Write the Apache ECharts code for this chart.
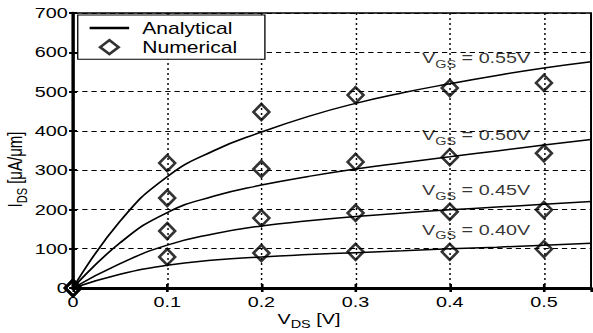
<!DOCTYPE html>
<html>
<head>
<meta charset="utf-8">
<script src="https://cdn.jsdelivr.net/npm/echarts@6/dist/echarts.min.js"></script>
<style>
  html, body { margin: 0; padding: 0; background: #fff; overflow: hidden; }
  /* the source figure is stretched horizontally, so draw narrower and stretch */
  #chart { width: 450px; height: 333px; transform: scaleX(1.3178); transform-origin: 0 0; }
</style>
</head>
<body>
<div id="chart"></div>
<script>
// analytical curves, sampled along V_DS
const vdsLine = [0, 0.05, 0.1, 0.15, 0.2, 0.25, 0.3, 0.35, 0.4, 0.45, 0.5, 0.55]
const ana055 = [0, 170, 283, 350, 397, 437, 470, 497, 520, 541, 560, 576]
const ana050 = [0, 115, 192, 234, 262, 284, 303, 319, 334, 349, 364, 378]
const ana045 = [0, 62, 109, 138, 158, 171, 182, 191, 199, 206, 213, 220]
const ana040 = [0, 35, 58, 71, 79, 85, 90, 95, 100, 104, 109, 114]

// numerical points
const vdsPts = [0, 0.1, 0.2, 0.3, 0.4, 0.5]
const num055 = [0, 318, 448, 491, 509, 522]
const num050 = [0, 229, 303, 321, 333, 343]
const num045 = [0, 145, 178, 191, 194, 199]
const num040 = [0, 79, 89, 92, 92, 99]

// V_GS annotations
const vgsLabels = ['0.55V', '0.50V', '0.45V', '0.40V']
const labelX = [0.428, 0.428, 0.428, 0.428]
const labelY = [585, 389, 249, 148]

const font = 'Liberation Sans, Arial, sans-serif'
const chart = echarts.init(document.getElementById('chart'), null, { renderer: 'svg' })

const anaSets = [ana055, ana050, ana045, ana040]
const numSets = [num055, num050, num045, num040]

const subRich = {
    v: { fontFamily: font, fontSize: 15, color: '#000' },
    s: { fontFamily: font, fontSize: 11, color: '#000', padding: [11, 0, 0, 0] }
}

const series = []
anaSets.forEach(vals => {
    series.push({
        name: 'Analytical',
        type: 'line',
        data: vals.map((v, k) => [vdsLine[k], v]),
        symbol: 'none',
        smooth: 0.5,
        color: '#000',
        lineStyle: { color: '#000', width: 1.5 },
        z: 3
    })
})
series.push({
    name: 'labels',
    type: 'scatter',
    symbolSize: 0,
    silent: true,
    data: vgsLabels.map((t, i) => ({ value: [labelX[i], labelY[i]], txt: t })),
    label: {
        show: true,
        position: 'inside',
        formatter: p => '{v|V}{s|GS}{v| = ' + p.data.txt + '}',
        rich: subRich
    },
    z: 4
})
series.push({
    name: 'Numerical',
    type: 'scatter',
    data: numSets.flatMap(vals => vals.map((v, k) => [vdsPts[k], v])),
    symbol: 'diamond',
    symbolSize: [12, 16],
    color: '#000',
    itemStyle: { color: 'rgba(255,255,255,0)', borderColor: '#000', borderWidth: 2.3 },
    z: 5
})

const option = {
    backgroundColor: '#fff',
    animation: false,
    textStyle: { fontFamily: font },
    grid: {
        left: 55.4, right: 1.5, top: 13, bottom: 45,
        outerBoundsMode: 'none',
        show: true, borderColor: '#000', borderWidth: 1.5
    },
    legend: {
        data: [
            { name: 'Analytical', icon: 'path://M0,0L30,0L30,2.5L0,2.5Z',
              itemStyle: { color: '#000', borderWidth: 0 } },
            { name: 'Numerical', icon: 'path://M7,0L14,7L7,14L0,7Z',
              itemStyle: { color: 'rgba(255,255,255,0)', borderColor: '#000', borderWidth: 2.3 } }
        ],
        orient: 'vertical',
        left: 59,
        top: 15,
        itemGap: 3,
        itemWidth: 30,
        itemHeight: 14,
        padding: [5, 21, 4, 9],
        borderColor: '#000',
        borderWidth: 1,
        borderRadius: 0,
        backgroundColor: '#fff',
        textStyle: { fontFamily: font, fontSize: 16, color: '#000', padding: [0, 0, 0, 5] },
        selectedMode: false
    },
    xAxis: [{
        type: 'value',
        min: 0,
        max: 0.55,
        interval: 0.1,
        name: '{v|V}{s|DS}{v| [V]}',
        nameLocation: 'middle',
        nameGap: 20,
        nameMoveOverlap: false,
        nameTextStyle: { rich: subRich, padding: [0, 35, 0, 0] },
        axisLine: { onZero: false, lineStyle: { color: '#000', width: 3 } },
        axisTick: { inside: true, length: 4, lineStyle: { color: '#000', width: 2 } },
        axisLabel: { color: '#000', fontSize: 15, fontFamily: font, margin: 6, showMaxLabel: false },
        splitLine: { show: true, lineStyle: { color: '#000', type: [2, 3], width: 1.1 } }
    }, {
        type: 'value',
        position: 'top',
        min: 0,
        max: 0.55,
        interval: 0.1,
        axisLine: { show: false },
        axisTick: { inside: true, length: 4, lineStyle: { color: '#000', width: 2 } },
        axisLabel: { show: false },
        splitLine: { show: false }
    }],
    yAxis: [{
        type: 'value',
        min: 0,
        max: 700,
        interval: 100,
        name: '{v|I}{s|DS}{v| [μA/μm]}',
        nameLocation: 'middle',
        nameGap: 33,
        nameMoveOverlap: false,
        nameTextStyle: { rich: subRich, padding: [0, 38, 0, 0] },
        axisLine: { show: true, onZero: false, lineStyle: { color: '#000', width: 2.6 } },
        axisTick: { show: true, inside: true, length: 3, lineStyle: { color: '#000', width: 2 } },
        axisLabel: { color: '#000', fontSize: 15, fontFamily: font, margin: 4 },
        splitLine: { show: true, lineStyle: { color: '#000', type: [4, 3], width: 1.2 } }
    }, {
        type: 'value',
        position: 'right',
        min: 0,
        max: 700,
        interval: 100,
        axisLine: { show: false },
        axisTick: { show: true, inside: true, length: 3, lineStyle: { color: '#000', width: 2 } },
        axisLabel: { show: false },
        splitLine: { show: false }
    }],
    series: series
}

chart.setOption(option)
</script>
</body>
</html>
